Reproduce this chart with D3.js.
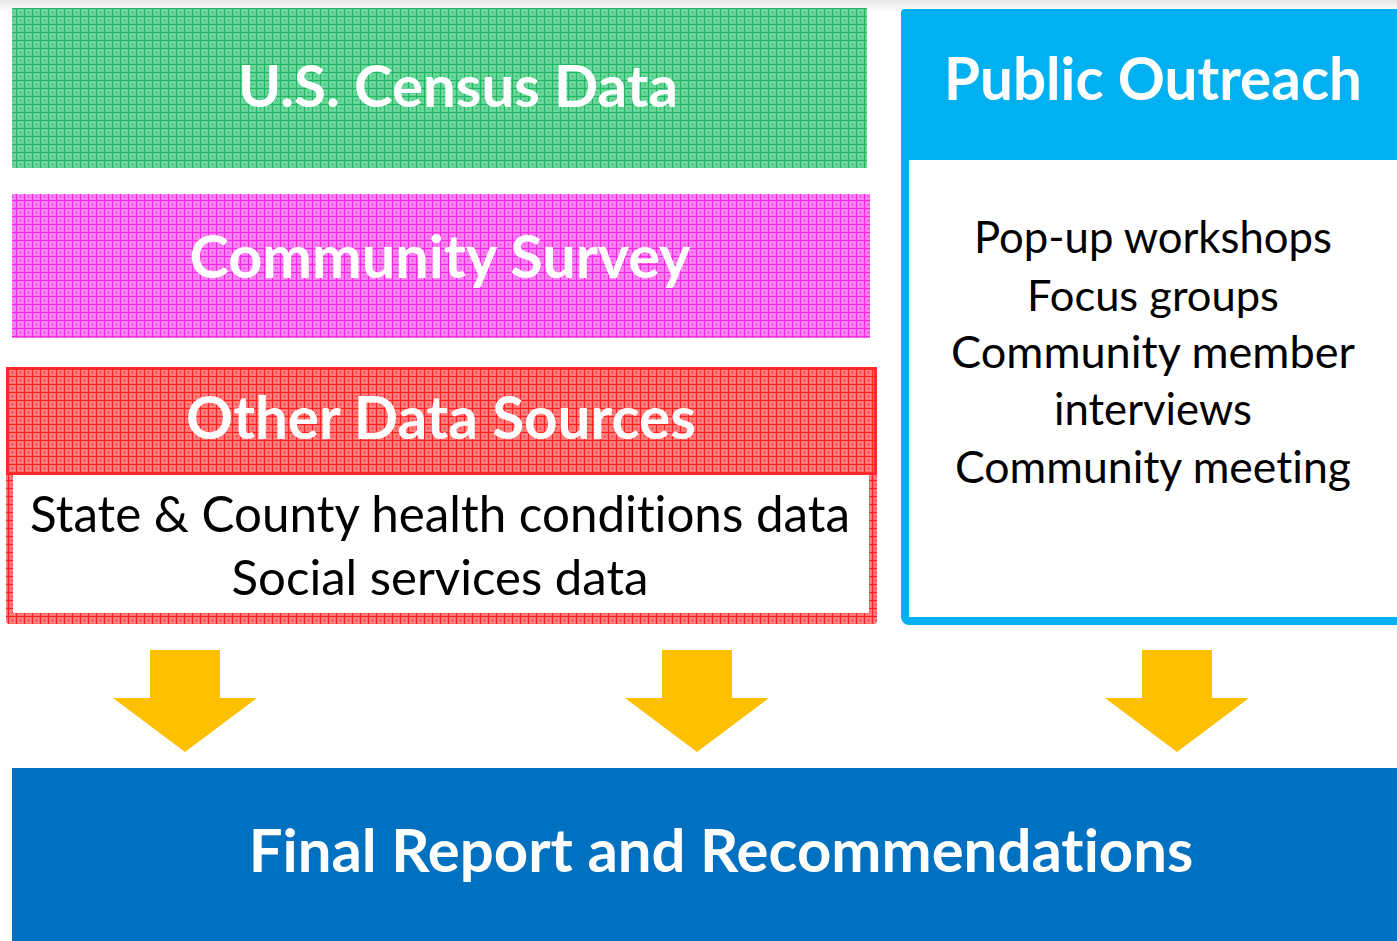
<!DOCTYPE html>
<html>
<head>
<meta charset="utf-8">
<script src="https://cdn.jsdelivr.net/npm/d3@7"></script>
<style>
  html, body { margin: 0; padding: 0; background: #fff; }
  svg { display: block; }
  text { font-variant-ligatures: none; font-feature-settings: "liga" 0, "clig" 0; }
</style>
</head>
<body>
<div id="chart"></div>
<script>
// diagram content
const sourceTitles = ["U.S. Census Data", "Community Survey", "Other Data Sources"];
const otherSourceLines = ["State & County health conditions data", "Social services data"];
const outreachTitle = "Public Outreach";
const outreachLines = ["Pop-up workshops", "Focus groups", "Community member", "interviews", "Community meeting"];
const finalTitle = "Final Report and Recommendations";
const arrowCenters = [185, 697, 1177];

const W = 1397, H = 941;
const FONT = "Lato, 'Open Sans', sans-serif";

// colours for the textured boxes: base, grid line, dot
const textures = {
  green: ["#5fd393", "#22b562", "#8adfb1"],
  pink:  ["#f874ee", "#f028e2", "#fca6f5"],
  red:   ["#ff6e6e", "#ff2020", "#ff9c9c"]
};

const svg = d3.select('#chart').append('svg')
  .attr('width', W)
  .attr('height', H);

const defs = svg.append('defs');

// soft shadow at the top edge
const grad = defs.append('linearGradient').attr('id', 'topShade')
  .attr('x1', 0).attr('y1', 0).attr('x2', 0).attr('y2', 1);
grad.append('stop').attr('offset', 0).attr('stop-color', '#e6e6e6');
grad.append('stop').attr('offset', 1).attr('stop-color', '#ffffff');

Object.entries(textures).forEach(([name, [base, line, dot]]) => {
  const p = defs.append('pattern')
    .attr('id', 'tex-' + name)
    .attr('patternUnits', 'userSpaceOnUse')
    .attr('width', 8).attr('height', 8);
  p.append('rect').attr('width', 8).attr('height', 8).attr('fill', base);
  // checker dots inside each cell
  [[2, 2], [4, 2], [6, 2], [2, 4], [6, 4], [2, 6], [4, 6], [6, 6]].forEach(([x, y]) => {
    p.append('rect').attr('x', x).attr('y', y).attr('width', 1).attr('height', 1).attr('fill', dot);
  });
  [[4, 4]].forEach(([x, y]) => {
    p.append('rect').attr('x', x).attr('y', y).attr('width', 1).attr('height', 1).attr('fill', line);
  });
  p.append('rect').attr('x', 0).attr('y', 0).attr('width', 8).attr('height', 1).attr('fill', line);
  p.append('rect').attr('x', 0).attr('y', 0).attr('width', 1).attr('height', 8).attr('fill', line);
});

svg.append('rect').attr('x', 0).attr('y', 0).attr('width', W).attr('height', 12)
  .attr('fill', 'url(#topShade)');

// fit a text to a measured width by scaling its font size
function fitText(sel, width) {
  const len = sel.node().getComputedTextLength();
  const fs = parseFloat(sel.attr('font-size'));
  sel.attr('font-size', fs * width / len);
}

function addText(str, cx, baseline, width, opts) {
  const t = svg.append('text')
    .attr('x', cx)
    .attr('y', baseline)
    .attr('text-anchor', 'middle')
    .attr('font-family', FONT)
    .attr('font-weight', opts.bold ? 700 : 400)
    .attr('font-size', 40)
    .attr('fill', opts.color)
    .text(str);
  fitText(t, width);
  return t;
}

// ---- left column: data sources ----
svg.append('rect')
  .attr('x', 12).attr('y', 8).attr('width', 855).attr('height', 160)
  .attr('fill', 'url(#tex-green)');
svg.append('rect')
  .attr('x', 12).attr('y', 194).attr('width', 858).attr('height', 144)
  .attr('fill', 'url(#tex-pink)');

// other data sources box with textured frame
svg.append('rect')
  .attr('x', 6).attr('y', 367).attr('width', 871).attr('height', 257).attr('rx', 3)
  .attr('fill', 'url(#tex-red)');
svg.append('rect')
  .attr('x', 7.5).attr('y', 368.5).attr('width', 868).attr('height', 105)
  .attr('fill', 'none').attr('stroke', '#ff2a2a').attr('stroke-width', 3);
svg.append('rect')
  .attr('x', 13).attr('y', 475).attr('width', 856).attr('height', 138)
  .attr('fill', '#fff');

const titleLayout = [
  { cx: 458, base: 107, w: 440 },
  { cx: 440, base: 278, w: 501 },
  { cx: 441, base: 439, w: 510 }
];
sourceTitles.forEach((s, i) => {
  const l = titleLayout[i];
  addText(s, l.cx, l.base, l.w, { bold: true, color: '#fff' });
});

const otherLayout = [
  { cx: 440, base: 532, w: 820 },
  { cx: 440, base: 595, w: 417 }
];
otherSourceLines.forEach((s, i) => {
  const l = otherLayout[i];
  addText(s, l.cx, l.base, l.w, { bold: false, color: '#000' });
});

// ---- right column: public outreach ----
svg.append('rect')
  .attr('x', 905).attr('y', 13).attr('width', W - 905 + 20).attr('height', 608).attr('rx', 4)
  .attr('fill', '#fff').attr('stroke', '#00b0f0').attr('stroke-width', 8);
svg.append('rect')
  .attr('x', 901).attr('y', 9).attr('width', W - 901 + 20).attr('height', 151).attr('rx', 4)
  .attr('fill', '#00b0f0');
addText(outreachTitle, 1153, 100, 418, { bold: true, color: '#fff' });

const outreachLayout = [
  { base: 253, w: 358 },
  { base: 311, w: 252 },
  { base: 368, w: 404 },
  { base: 425, w: 198 },
  { base: 483, w: 396 }
];
outreachLines.forEach((s, i) => {
  const l = outreachLayout[i];
  addText(s, 1153, l.base, l.w, { bold: false, color: '#000' });
});

// ---- arrows ----
const arrowTop = 650, headTop = 698, tip = 752, shaftHalf = 35, headHalf = 72;
const arrowLine = d3.line();
svg.selectAll('path.arrow')
  .data(arrowCenters)
  .join('path')
  .attr('class', 'arrow')
  .attr('fill', '#ffc000')
  .attr('d', c => arrowLine([
    [c - shaftHalf, arrowTop], [c + shaftHalf, arrowTop], [c + shaftHalf, headTop],
    [c + headHalf, headTop], [c, tip], [c - headHalf, headTop], [c - shaftHalf, headTop]
  ]) + 'Z');

// ---- final report ----
svg.append('rect')
  .attr('x', 12).attr('y', 768).attr('width', W - 12).attr('height', H - 768)
  .attr('fill', '#0070c0');
addText(finalTitle, 721, 872, 945, { bold: true, color: '#fff' });
</script>
</body>
</html>
